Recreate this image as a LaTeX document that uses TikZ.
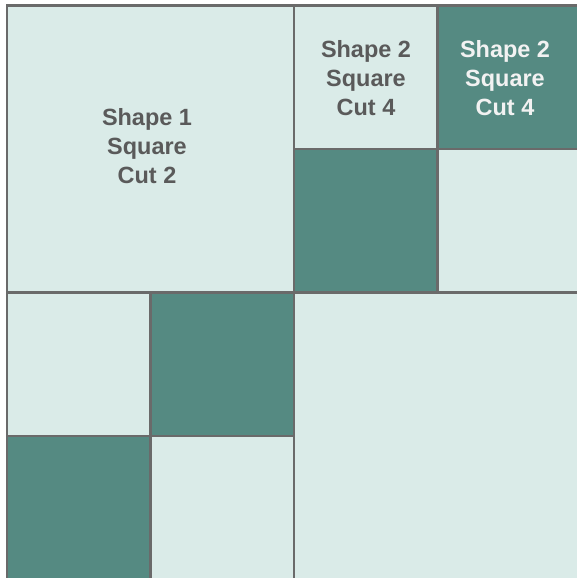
\documentclass[tikz,border=0pt]{standalone}
\usepackage{fontspec}
\setmainfont{Liberation Sans}
\definecolor{lightc}{HTML}{DAEBE8}
\definecolor{darkc}{HTML}{558A82}
\definecolor{linec}{HTML}{6A6A6A}
\definecolor{textc}{HTML}{5A5A5A}
\definecolor{textw}{HTML}{F2F2F2}
\begin{document}
\begin{tikzpicture}[x=0.75pt,y=-0.75pt,
  light/.style={fill=lightc},
  dark/.style={fill=darkc},
  gridline/.style={draw=linec,line width=1.6pt},
  lbl/.style={font=\fontsize{17.6}{21.5}\selectfont\bfseries,align=center,text=textc,inner sep=0pt},
  lblw/.style={lbl,text=textw}]
\useasboundingbox (0,0) rectangle (577,578);
\clip (0,0) rectangle (577,578);
% cells
\fill[light] (7,5.5) rectangle (294,292.5);
\fill[light] (294,5.5) rectangle (437.5,149);
\fill[dark] (437.5,5.5) rectangle (582,149);
\fill[dark] (294,149) rectangle (437.5,292.5);
\fill[light] (437.5,149) rectangle (582,292.5);
\fill[light] (7,292.5) rectangle (150.5,436);
\fill[dark] (150.5,292.5) rectangle (294,436);
\fill[dark] (7,436) rectangle (150.5,582);
\fill[light] (150.5,436) rectangle (294,582);
\fill[light] (294,292.5) rectangle (582,582);
% lines
\draw[gridline] (7,5.5) rectangle (582,582);
\draw[gridline] (294,5.5) -- (294,582);
\draw[gridline] (7,292.5) -- (582,292.5);
\draw[gridline] (150.5,292.5) -- (150.5,582);
\draw[gridline] (437.5,5.5) -- (437.5,292.5);
\draw[gridline] (294,149) -- (582,149);
\draw[gridline] (7,436) -- (294,436);
% labels
\node[lbl] (s1) at (147,146) {Shape 1\\Square\\Cut 2};
\node[lbl] (s2a) at (366,78) {Shape 2\\Square\\Cut 4};
\node[lblw] (s2b) at (505,78) {Shape 2\\Square\\Cut 4};
\end{tikzpicture}
\end{document}
